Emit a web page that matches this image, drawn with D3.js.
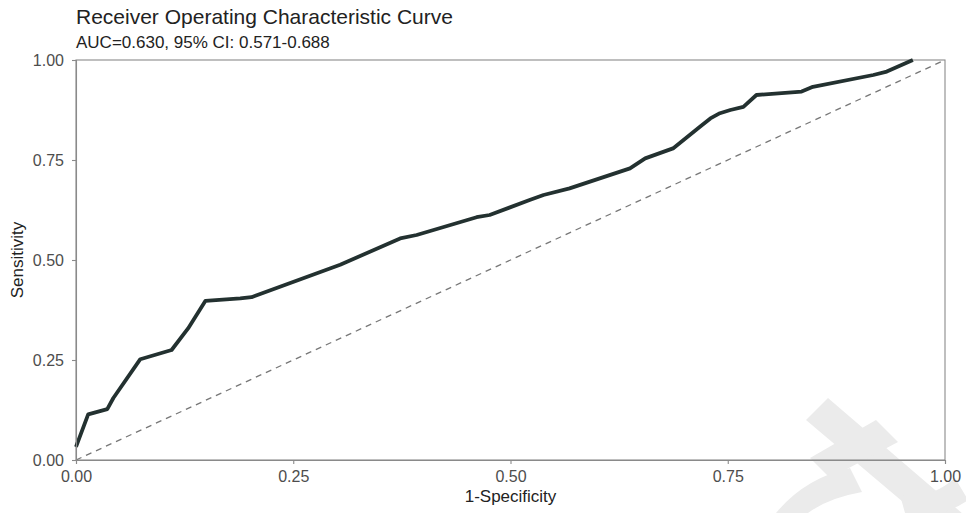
<!DOCTYPE html>
<html>
<head>
<meta charset="utf-8">
<script src="https://cdn.jsdelivr.net/npm/d3@7"></script>
<style>
  html, body { margin: 0; padding: 0; background: #fff; }
  svg { display: block; }
  text { font-family: "Liberation Sans", Arial, Helvetica, sans-serif; }
</style>
</head>
<body>
<svg id="chart" width="966" height="513"></svg>
<script>
// ---- data ----
const fpr = [0, 0.014, 0.036, 0.043, 0.074, 0.110, 0.129, 0.149, 0.189, 0.202, 0.304, 0.373, 0.392, 0.461, 0.476, 0.522, 0.538, 0.568, 0.6375, 0.655, 0.687, 0.718, 0.730, 0.741, 0.753, 0.768, 0.783, 0.835, 0.848, 0.9175, 0.933, 0.963];
const tpr = [0.033, 0.114, 0.127, 0.155, 0.252, 0.275, 0.329, 0.398, 0.404, 0.407, 0.488, 0.554, 0.5625, 0.607, 0.6125, 0.65, 0.6625, 0.679, 0.729, 0.754, 0.779, 0.833, 0.854, 0.867, 0.875, 0.883, 0.9125, 0.921, 0.933, 0.9625, 0.971, 1.0];
const refX = [0, 1];
const refY = [0, 1];
const tickValues = [0, 0.25, 0.5, 0.75, 1];
const titleText = "Receiver Operating Characteristic Curve";
const subtitleText = "AUC=0.630, 95% CI: 0.571-0.688";
const xLabel = "1-Specificity";
const yLabel = "Sensitivity";

// ---- layout ----
const svg = d3.select("#chart");
const m = { left: 76, top: 60, right: 21, bottom: 53 };
const W = 966, H = 513;
const iw = W - m.left - m.right, ih = H - m.top - m.bottom;

const x = d3.scaleLinear().domain([0, 1]).range([m.left, m.left + iw]);
const y = d3.scaleLinear().domain([0, 1]).range([m.top + ih, m.top]);

// faint watermark shapes (background decoration)
const wm = svg.append("g").attr("fill", "#ebebeb");
wm.append("path").attr("d", "M806,420 L828,398 L970,520 L948,540 Z");
wm.append("path").attr("d", "M876,420 L898,442 L830,478 L810,458 Z");
wm.append("path").attr("d", "M776,513 Q805,478 850,468 L862,492 Q828,498 808,513 Z");
wm.append("path").attr("d", "M900,495 Q930,500 955,478 L968,500 Q940,520 905,513 Z");

// frame
svg.append("rect")
  .attr("x", m.left).attr("y", m.top).attr("width", iw).attr("height", ih)
  .attr("fill", "none").attr("stroke", "#8a8a8a").attr("stroke-width", 1.1);

// reference diagonal
const line = d3.line().x(d => x(d[0])).y(d => y(d[1]));
svg.append("path")
  .datum(d3.zip(refX, refY))
  .attr("d", line)
  .attr("fill", "none")
  .attr("stroke", "#777")
  .attr("stroke-width", 1.3)
  .attr("stroke-dasharray", "6,5");

// ROC curve
svg.append("path")
  .datum(d3.zip(fpr, tpr))
  .attr("d", line)
  .attr("fill", "none")
  .attr("stroke", "#233130")
  .attr("stroke-width", 3.8)
  .attr("stroke-linejoin", "round")
  .attr("stroke-linecap", "butt");

// axes
const fmt = d3.format(".2f");
const xAxis = svg.append("g")
  .attr("transform", `translate(0,${m.top + ih})`)
  .call(d3.axisBottom(x).tickValues(tickValues).tickFormat(fmt).tickSizeOuter(0).tickSize(4).tickPadding(7));
const yAxis = svg.append("g")
  .attr("transform", `translate(${m.left},0)`)
  .call(d3.axisLeft(y).tickValues(tickValues).tickFormat(fmt).tickSizeOuter(0).tickSize(4).tickPadding(8));
[xAxis, yAxis].forEach(a => {
  a.select(".domain").attr("stroke", "#8a8a8a").attr("stroke-width", 1.1);
  a.selectAll(".tick line").attr("stroke", "#8a8a8a").attr("stroke-width", 1.1);
  a.selectAll(".tick text").attr("fill", "#4d4d4d").style("font-size", "16px")
    .style("font-family", '"Liberation Sans", Arial, sans-serif');
});

// titles
svg.append("text").attr("x", 76).attr("y", 24)
  .style("font-size", "21px").attr("fill", "#222").text(titleText);
svg.append("text").attr("x", 76).attr("y", 48)
  .style("font-size", "17px").attr("fill", "#222").text(subtitleText);

svg.append("text")
  .attr("x", x(0.5)).attr("y", 502)
  .attr("text-anchor", "middle")
  .style("font-size", "17px").attr("fill", "#222").text(xLabel);
svg.append("text")
  .attr("transform", `translate(23,${y(0.5)}) rotate(-90)`)
  .attr("text-anchor", "middle")
  .style("font-size", "17px").attr("fill", "#222").text(yLabel);
</script>
</body>
</html>
